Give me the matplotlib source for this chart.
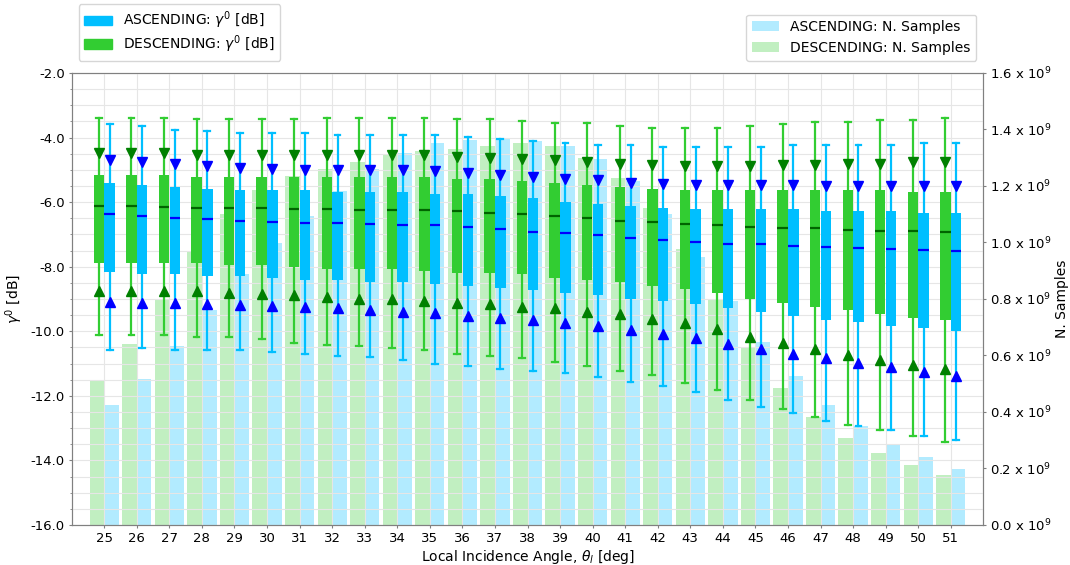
import matplotlib
matplotlib.use("Agg")
import matplotlib.pyplot as plt
import matplotlib.ticker as mticker
from matplotlib.patches import Patch
import numpy as np

angles = list(range(25, 52))

# DESCENDING gamma0 statistics [dB]
desc_whi_hi = [-3.38, -3.38, -3.38, -3.44, -3.44, -3.44, -3.44, -3.38, -3.38, -3.38, -3.38, -3.44, -3.44, -3.50,
               -3.56, -3.56, -3.63, -3.69, -3.69, -3.69, -3.63, -3.57, -3.51, -3.51, -3.46, -3.46, -3.39]
desc_p_hi = [-4.47, -4.47, -4.47, -4.53, -4.53, -4.53, -4.53, -4.53, -4.53, -4.53, -4.55, -4.60, -4.62, -4.67,
             -4.70, -4.75, -4.81, -4.86, -4.89, -4.87, -4.87, -4.84, -4.84, -4.81, -4.81, -4.77, -4.75]
desc_q3 = [-5.16, -5.16, -5.16, -5.22, -5.22, -5.22, -5.22, -5.22, -5.22, -5.22, -5.22, -5.28, -5.28, -5.34,
           -5.41, -5.47, -5.53, -5.58, -5.61, -5.61, -5.61, -5.61, -5.61, -5.61, -5.61, -5.70, -5.70]
desc_med = [-6.13, -6.13, -6.15, -6.17, -6.17, -6.19, -6.21, -6.21, -6.23, -6.23, -6.25, -6.28, -6.34, -6.38,
            -6.44, -6.48, -6.57, -6.62, -6.69, -6.72, -6.76, -6.80, -6.81, -6.86, -6.88, -6.90, -6.92]
desc_q1 = [-7.89, -7.89, -7.89, -7.89, -7.95, -7.95, -8.01, -8.06, -8.06, -8.06, -8.12, -8.18, -8.18, -8.24,
           -8.36, -8.42, -8.48, -8.59, -8.70, -8.82, -9.01, -9.12, -9.25, -9.34, -9.46, -9.59, -9.65]
desc_p_lo = [-8.74, -8.74, -8.76, -8.76, -8.82, -8.84, -8.88, -8.95, -8.99, -9.01, -9.05, -9.11, -9.15, -9.24,
             -9.29, -9.40, -9.48, -9.62, -9.75, -9.94, -10.17, -10.37, -10.55, -10.74, -10.89, -11.05, -11.18]
desc_whi_lo = [-10.11, -10.11, -10.11, -10.17, -10.17, -10.23, -10.35, -10.41, -10.45, -10.52, -10.57, -10.69,
               -10.76, -10.82, -10.94, -11.06, -11.23, -11.34, -11.59, -11.81, -12.12, -12.41, -12.65, -12.90,
               -13.06, -13.24, -13.43]

# ASCENDING gamma0 statistics [dB]
asc_whi_hi = [-3.58, -3.65, -3.77, -3.80, -3.86, -3.86, -3.86, -3.92, -3.92, -3.92, -3.92, -3.98, -4.04, -4.10,
              -4.16, -4.23, -4.23, -4.29, -4.29, -4.29, -4.29, -4.23, -4.23, -4.23, -4.23, -4.16, -4.16]
asc_p_hi = [-4.70, -4.77, -4.83, -4.89, -4.95, -4.97, -5.00, -5.00, -5.01, -5.01, -5.05, -5.11, -5.16, -5.21,
            -5.27, -5.32, -5.40, -5.43, -5.46, -5.46, -5.46, -5.46, -5.49, -5.49, -5.49, -5.49, -5.49]
asc_q3 = [-5.40, -5.46, -5.52, -5.58, -5.62, -5.62, -5.62, -5.69, -5.69, -5.69, -5.75, -5.75, -5.81, -5.87,
          -5.99, -6.05, -6.11, -6.17, -6.20, -6.20, -6.20, -6.20, -6.27, -6.27, -6.27, -6.33, -6.33]
asc_med = [-6.38, -6.44, -6.50, -6.53, -6.57, -6.60, -6.64, -6.66, -6.67, -6.70, -6.72, -6.78, -6.82, -6.91,
           -6.97, -7.03, -7.10, -7.17, -7.23, -7.29, -7.31, -7.35, -7.39, -7.41, -7.46, -7.48, -7.50]
asc_q1 = [-8.17, -8.23, -8.23, -8.29, -8.29, -8.36, -8.42, -8.42, -8.48, -8.48, -8.53, -8.59, -8.66, -8.71,
          -8.82, -8.88, -9.01, -9.07, -9.17, -9.28, -9.40, -9.53, -9.65, -9.71, -9.84, -9.90, -10.00]
asc_p_lo = [-9.10, -9.12, -9.13, -9.15, -9.19, -9.23, -9.25, -9.28, -9.34, -9.39, -9.44, -9.52, -9.58, -9.65,
            -9.73, -9.84, -9.96, -10.08, -10.21, -10.38, -10.54, -10.69, -10.83, -10.98, -11.10, -11.25, -11.39]
asc_whi_lo = [-10.58, -10.52, -10.58, -10.58, -10.58, -10.64, -10.70, -10.77, -10.81, -10.88, -11.00, -11.06,
              -11.16, -11.22, -11.29, -11.41, -11.57, -11.70, -11.87, -12.12, -12.34, -12.53, -12.78, -12.94,
              -13.05, -13.24, -13.36]

# number of samples
desc_n = [0.510e9, 0.642e9, 0.800e9, 0.965e9, 1.100e9, 1.186e9, 1.235e9, 1.259e9, 1.285e9, 1.309e9, 1.324e9,
          1.331e9, 1.343e9, 1.353e9, 1.340e9, 1.300e9, 1.227e9, 1.123e9, 0.977e9, 0.800e9, 0.625e9, 0.484e9,
          0.381e9, 0.307e9, 0.254e9, 0.212e9, 0.176e9]
asc_n = [0.424e9, 0.517e9, 0.633e9, 0.762e9, 0.890e9, 0.997e9, 1.093e9, 1.181e9, 1.259e9, 1.318e9, 1.351e9,
         1.362e9, 1.365e9, 1.360e9, 1.343e9, 1.296e9, 1.218e9, 1.100e9, 0.950e9, 0.793e9, 0.648e9, 0.526e9,
         0.426e9, 0.350e9, 0.287e9, 0.240e9, 0.199e9]

x = np.array(angles)

fig = plt.figure(figsize=(10.7, 5.65), dpi=100)
ax = fig.add_axes([0.067, 0.0708, 0.852, 0.8])
ax2 = ax.twinx()
ax.set_zorder(ax2.get_zorder() + 1)
ax.patch.set_visible(False)

# N samples bars (right axis)
b_desc = ax2.bar(x - 0.225, desc_n, width=0.45, color='limegreen', alpha=0.3, label='DESCENDING: N. Samples')
b_asc = ax2.bar(x + 0.225, asc_n, width=0.45, color='deepskyblue', alpha=0.3, label='ASCENDING: N. Samples')

def make_stats(whi_hi, q3, med, q1, whi_lo):
    return [dict(med=m, q1=a, q3=b, whislo=lo, whishi=hi, fliers=[])
            for hi, b, m, a, lo in zip(whi_hi, q3, med, q1, whi_lo)]

# boxes
ax.bxp(make_stats(desc_whi_hi, desc_q3, desc_med, desc_q1, desc_whi_lo), positions=x - 0.165, widths=0.32,
       patch_artist=True, showfliers=False, manage_ticks=False, capwidths=0.18,
       boxprops=dict(facecolor='limegreen', edgecolor='limegreen', linewidth=0),
       whiskerprops=dict(color='limegreen', linewidth=1.6),
       capprops=dict(color='limegreen', linewidth=1.6),
       medianprops=dict(color='darkgreen', linewidth=1.6))
ax.bxp(make_stats(asc_whi_hi, asc_q3, asc_med, asc_q1, asc_whi_lo), positions=x + 0.165, widths=0.32,
       patch_artist=True, showfliers=False, manage_ticks=False, capwidths=0.18,
       boxprops=dict(facecolor='deepskyblue', edgecolor='deepskyblue', linewidth=0),
       whiskerprops=dict(color='deepskyblue', linewidth=1.6),
       capprops=dict(color='deepskyblue', linewidth=1.6),
       medianprops=dict(color='blue', linewidth=1.6))

# percentile triangles
ax.plot(x - 0.165, desc_p_hi, 'v', color='green', markersize=7.5, zorder=4)
ax.plot(x - 0.165, desc_p_lo, '^', color='green', markersize=7.5, zorder=4)
ax.plot(x + 0.165, asc_p_hi, 'v', color='blue', markersize=7.5, zorder=4)
ax.plot(x + 0.165, asc_p_lo, '^', color='blue', markersize=7.5, zorder=4)

ax.set_xlim(24, 52)
ax.set_ylim(-16, -2)
ax.set_xticks(angles)
ax.set_yticks(np.arange(-16, -1.9, 2))
ax.yaxis.set_minor_locator(mticker.MultipleLocator(0.5))
ax.yaxis.set_major_formatter(mticker.FormatStrFormatter('%.1f'))
ax.grid(which='both', axis='y', color='#e6e6e6', linewidth=0.8)
ax.grid(which='major', axis='x', color='#e6e6e6', linewidth=0.8)
ax.set_xlabel(r'Local Incidence Angle, $\theta_l$ [deg]', fontsize=10, labelpad=2)
ax.set_ylabel(r'$\gamma^0$ [dB]', fontsize=10, labelpad=4)

ax2.set_ylim(0, 1.6e9)
ax2.set_yticks(np.arange(0, 1.61e9, 0.2e9))
ax2.yaxis.set_major_formatter(mticker.FuncFormatter(lambda v, p: '%.1f x $10^9$' % (v / 1e9)))
ax2.set_ylabel('N. Samples', fontsize=10, labelpad=2)

for a in (ax, ax2):
    for s in a.spines.values():
        s.set_color('#808080')
    a.tick_params(which='major', length=2.5, pad=2.5, colors='#808080', labelcolor='black', labelsize=9.5)
    a.tick_params(which='minor', length=1.5, colors='#808080')

h_left = [Patch(color='deepskyblue', label=r'ASCENDING: $\gamma^0$ [dB]'),
          Patch(color='limegreen', label=r'DESCENDING: $\gamma^0$ [dB]')]
ax.legend(handles=h_left, loc='lower left', bbox_to_anchor=(0.0, 1.012), fontsize=10, labelspacing=0.15)
ax2.legend(handles=[b_asc, b_desc], loc='lower right', bbox_to_anchor=(1.0, 1.012), fontsize=10)

plt.savefig('out.png', dpi=100)
